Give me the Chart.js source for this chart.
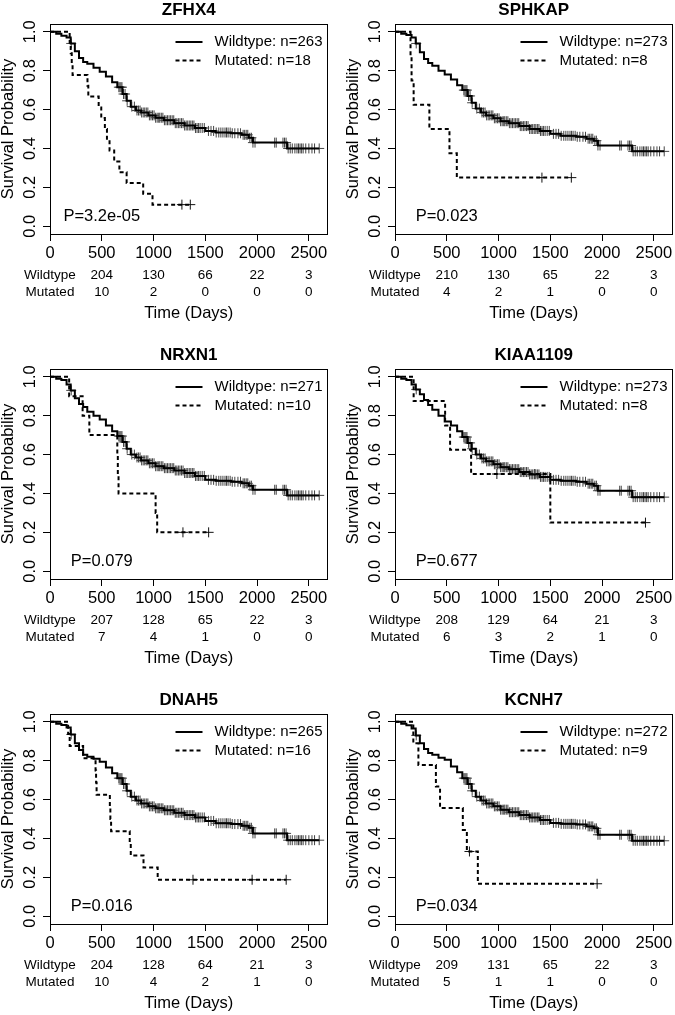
<!DOCTYPE html>
<html>
<head>
<meta charset="utf-8">
<script src="https://cdn.jsdelivr.net/npm/chart.js@4.4.0/dist/chart.umd.min.js"></script>
<style>
  html, body { margin: 0; padding: 0; background: #fff; }
  #page { position: relative; width: 675px; height: 1015px; overflow: hidden; background: #fff; }
  #page canvas { position: absolute; }
</style>
</head>
<body>
<div id="page"></div>
<script>
// panel labels
const genes = ["ZFHX4", "SPHKAP", "NRXN1", "KIAA1109", "DNAH5", "KCNH7"];
const wtN = [263, 273, 271, 273, 265, 272];
const mutN = [18, 8, 10, 8, 16, 9];
const pValues = ["3.2e-05", "0.023", "0.079", "0.677", "0.016", "0.034"];

// axes
const xTicks = [0, 500, 1000, 1500, 2000, 2500];
const yTicks = [0, 0.2, 0.4, 0.6, 0.8, 1.0];
const XMAX = 2680;

// numbers at risk (at 500 .. 2500 days)
const riskWt = [[204, 130, 66, 22, 3], [210, 130, 65, 22, 3], [207, 128, 65, 22, 3],
                [208, 129, 64, 21, 3], [204, 128, 64, 21, 3], [209, 131, 65, 22, 3]];
const riskMut = [[10, 2, 0, 0, 0], [4, 2, 1, 0, 0], [7, 4, 1, 0, 0],
                 [6, 3, 2, 1, 0], [10, 4, 2, 1, 0], [5, 1, 1, 0, 0]];

// wildtype curves (same time grid for every panel)
const wtTimes = [0, 60, 110, 160, 200, 240, 280, 320, 360, 420, 480, 540, 600, 650, 700, 740, 780,
                 830, 880, 950, 1020, 1100, 1200, 1300, 1400, 1500, 1600, 1750, 1850, 1920, 1960, 2290, 2600];
const zfhx4Wt = [1, 0.99, 0.98, 0.97, 0.94, 0.90, 0.865, 0.845, 0.835, 0.815, 0.795, 0.77, 0.74, 0.715, 0.68, 0.645, 0.615,
                 0.595, 0.585, 0.57, 0.558, 0.545, 0.53, 0.518, 0.505, 0.49, 0.482, 0.478, 0.47, 0.455, 0.43, 0.40, 0.40];
const sphkapWt = [1, 0.99, 0.983, 0.97, 0.94, 0.895, 0.86, 0.84, 0.825, 0.80, 0.78, 0.755, 0.725, 0.70, 0.67, 0.635, 0.605,
                  0.585, 0.57, 0.555, 0.54, 0.53, 0.515, 0.50, 0.49, 0.475, 0.465, 0.46, 0.45, 0.44, 0.415, 0.385, 0.385];
const nrxn1Wt = [1, 0.99, 0.983, 0.96, 0.93, 0.89, 0.86, 0.845, 0.82, 0.80, 0.78, 0.75, 0.72, 0.695, 0.665, 0.63, 0.60,
                 0.585, 0.57, 0.555, 0.54, 0.53, 0.518, 0.505, 0.49, 0.47, 0.465, 0.46, 0.452, 0.44, 0.419, 0.39, 0.39];
const kiaa1109Wt = [1, 0.99, 0.983, 0.96, 0.935, 0.91, 0.88, 0.855, 0.83, 0.80, 0.77, 0.75, 0.72, 0.69, 0.66, 0.63, 0.60,
                    0.58, 0.565, 0.55, 0.535, 0.525, 0.51, 0.498, 0.485, 0.47, 0.465, 0.46, 0.45, 0.44, 0.414, 0.381, 0.381];
const dnah5Wt = [1, 0.99, 0.983, 0.97, 0.935, 0.89, 0.855, 0.83, 0.82, 0.81, 0.795, 0.765, 0.735, 0.71, 0.68, 0.645, 0.615,
                 0.595, 0.58, 0.565, 0.555, 0.545, 0.532, 0.52, 0.508, 0.49, 0.478, 0.474, 0.465, 0.455, 0.426, 0.391, 0.391];
const kcnh7Wt = [1, 0.99, 0.982, 0.965, 0.93, 0.89, 0.86, 0.84, 0.83, 0.815, 0.805, 0.77, 0.74, 0.71, 0.68, 0.645, 0.615,
                 0.595, 0.58, 0.565, 0.548, 0.535, 0.52, 0.508, 0.495, 0.48, 0.475, 0.472, 0.462, 0.452, 0.419, 0.388, 0.388];

// wildtype censoring times
const wtCens = [205, 665, 675, 685, 695, 710, 725, 745, 790, 815, 840, 855, 870, 885, 900, 915, 930, 945, 960, 975,
                990, 1005, 1020, 1035, 1050, 1060, 1075, 1090, 1105, 1120, 1135, 1150, 1165, 1180, 1195, 1210,
                1225, 1240, 1255, 1270, 1285, 1300, 1315, 1330, 1345, 1360, 1375, 1390, 1405, 1420, 1435, 1450,
                1470, 1490, 1530, 1555, 1580, 1605, 1630, 1650, 1670, 1690, 1705, 1720, 1740, 1760, 1785, 1815,
                1840, 1865, 1880, 1895, 1910, 1930, 1945, 1960, 1980, 2170, 2185, 2250, 2265, 2280, 2300, 2320,
                2340, 2365, 2385, 2400, 2415, 2430, 2445, 2470, 2500, 2530, 2555, 2600];

// mutated curves
const zfhx4MutT = [0, 190, 200, 210, 218, 362, 370, 470, 495, 530, 550, 575, 620, 670, 740, 900, 990, 1355];
const zfhx4MutS = [1, 0.944, 0.889, 0.833, 0.778, 0.722, 0.667, 0.611, 0.556, 0.5, 0.444, 0.389, 0.333, 0.278, 0.222, 0.167, 0.111, 0.111];
const zfhx4MutC = [1274, 1355];

const sphkapMutT = [0, 150, 160, 180, 332, 526, 597, 1703];
const sphkapMutS = [1, 0.875, 0.75, 0.625, 0.5, 0.375, 0.25, 0.25];
const sphkapMutC = [1419, 1703];

const nrxn1MutT = [0, 185, 315, 380, 650, 655, 662, 1020, 1035, 1532];
const nrxn1MutS = [1, 0.9, 0.8, 0.7, 0.6, 0.5, 0.4, 0.3, 0.2, 0.2];
const nrxn1MutC = [1284, 1532];

const kiaa1109MutT = [0, 180, 484, 532, 735, 1500, 2419];
const kiaa1109MutS = [1, 0.875, 0.75, 0.625, 0.5, 0.25, 0.25];
const kiaa1109MutC = [984, 1350, 2419];

const dnah5MutT = [0, 175, 190, 320, 440, 445, 450, 578, 583, 590, 770, 780, 903, 1040, 2281];
const dnah5MutS = [1, 0.9375, 0.875, 0.8125, 0.75, 0.6875, 0.625, 0.5625, 0.5, 0.4375, 0.375, 0.3125, 0.25, 0.1875, 0.1875];
const dnah5MutC = [1381, 1952, 2281];

const kcnh7MutT = [0, 177, 226, 395, 435, 655, 694, 800, 1952];
const kcnh7MutS = [1, 0.889, 0.778, 0.667, 0.556, 0.444, 0.333, 0.167, 0.167];
const kcnh7MutC = [719, 1952];

const panels = [
  { wt: zfhx4Wt, mutT: zfhx4MutT, mutS: zfhx4MutS, mutC: zfhx4MutC },
  { wt: sphkapWt, mutT: sphkapMutT, mutS: sphkapMutS, mutC: sphkapMutC },
  { wt: nrxn1Wt, mutT: nrxn1MutT, mutS: nrxn1MutS, mutC: nrxn1MutC },
  { wt: kiaa1109Wt, mutT: kiaa1109MutT, mutS: kiaa1109MutS, mutC: kiaa1109MutC },
  { wt: dnah5Wt, mutT: dnah5MutT, mutS: dnah5MutS, mutC: dnah5MutC },
  { wt: kcnh7Wt, mutT: kcnh7MutT, mutS: kcnh7MutS, mutC: kcnh7MutC }
];

const FONT = "'Liberation Sans', Arial, Helvetica, sans-serif";
Chart.defaults.font.family = FONT;
Chart.defaults.color = "#000";

// survival value of a step curve at time t
function stepValue(times, surv, t) {
  let s = surv[0];
  for (let i = 0; i < times.length; i++) {
    if (times[i] <= t) s = surv[i];
  }
  return s;
}

function toPoints(times, surv) {
  return times.map((t, i) => ({ x: t, y: surv[i] }));
}

function censPoints(cens, times, surv) {
  return cens.map(t => ({ x: t, y: stepValue(times, surv, t) }));
}

// rotated y tick labels, legend box and p value
const kmText = {
  id: "kmText",
  afterDraw(chart, args, opts) {
    const ctx = chart.ctx;
    const area = chart.chartArea;
    const ys = chart.scales.y;
    ctx.save();
    ctx.fillStyle = "#000";
    ctx.strokeStyle = "#000";

    // y tick labels, R style (vertical)
    ctx.font = "16.5px " + FONT;
    ctx.textAlign = "center";
    ctx.textBaseline = "middle";
    ys.ticks.forEach(t => {
      ctx.save();
      ctx.translate(area.left - 20, ys.getPixelForValue(t.value));
      ctx.rotate(-Math.PI / 2);
      ctx.fillText(t.value.toFixed(1), 0, 0);
      ctx.restore();
    });

    // legend
    ctx.font = "15px " + FONT;
    ctx.textAlign = "left";
    ctx.lineWidth = 2;
    const tx = area.right - 113;
    const rows = [
      { label: "Wildtype: n=" + opts.wt, dash: [] },
      { label: "Mutated: n=" + opts.mut, dash: [4, 3] }
    ];
    rows.forEach((r, i) => {
      const ly = area.top + 18 + i * 18.5;
      ctx.setLineDash(r.dash);
      ctx.beginPath();
      ctx.moveTo(tx - 39, ly);
      ctx.lineTo(tx - 12, ly);
      ctx.stroke();
      ctx.setLineDash([]);
      ctx.fillText(r.label, tx, ly);
    });

    // p value
    ctx.font = "16.5px " + FONT;
    ctx.textAlign = "center";
    ctx.fillText("P=" + opts.p, chart.scales.x.getPixelForValue(500), ys.getPixelForValue(0.05));
    ctx.restore();
  }
};

const tickGrid = { display: true, drawOnChartArea: false, drawTicks: true, tickLength: 7, color: "#000", lineWidth: 1 };
const blackBorder = { display: true, color: "#000", width: 1 };

const page = document.getElementById("page");

panels.forEach((p, k) => {
  const col = k % 2;
  const row = Math.floor(k / 2);
  const cv = document.createElement("canvas");
  cv.width = 345;
  cv.height = 345;
  cv.style.left = (col * 345) + "px";
  cv.style.top = (row * 345) + "px";
  page.appendChild(cv);

  new Chart(cv, {
    type: "line",
    data: {
      datasets: [
        { data: toPoints(wtTimes, p.wt), borderColor: "#000", borderWidth: 2, stepped: true,
          pointRadius: 0, fill: false },
        { data: toPoints(p.mutT, p.mutS), borderColor: "#000", borderWidth: 2, borderDash: [4, 3],
          stepped: true, pointRadius: 0, fill: false },
        { type: "scatter", data: censPoints(wtCens, wtTimes, p.wt), pointStyle: "cross",
          pointRadius: 5, borderColor: "#444", borderWidth: 1, showLine: false },
        { type: "scatter", data: censPoints(p.mutC, p.mutT, p.mutS), pointStyle: "cross",
          pointRadius: 5, borderColor: "#111", borderWidth: 1, showLine: false }
      ]
    },
    options: {
      responsive: false,
      animation: false,
      devicePixelRatio: 1,
      layout: { padding: 0 },
      plugins: {
        legend: { display: false },
        tooltip: { enabled: false },
        title: { display: true, text: genes[k], fullSize: false, color: "#000",
                 font: { size: 17, weight: "bold", lineHeight: 1.2 }, padding: { top: 0, bottom: 3.6 } },
        kmText: { wt: wtN[k], mut: mutN[k], p: pValues[k] }
      },
      scales: {
        x: {
          type: "linear", position: "bottom", min: 0, max: XMAX, weight: 0,
          afterBuildTicks: s => { s.ticks = xTicks.map(v => ({ value: v })); },
          afterFit: s => { s.height = 30; },
          ticks: { autoSkip: false, maxRotation: 0, minRotation: 0, padding: 2.6, font: { size: 16.5 },
                   callback: v => String(v) },
          grid: tickGrid,
          border: blackBorder
        },
        xRisk: {
          type: "linear", position: "bottom", min: 0, max: XMAX, weight: 1,
          afterBuildTicks: s => { s.ticks = xTicks.map(v => ({ value: v })); },
          afterFit: s => { s.height = 81; },
          ticks: { autoSkip: false, maxRotation: 0, minRotation: 0, padding: 2.5,
                   font: { size: 13.5, lineHeight: 17 / 13.5 },
                   callback: (v, i) => i === 0 ? ["Wildtype", "Mutated"]
                                               : [String(riskWt[k][i - 1]), String(riskMut[k][i - 1])] },
          grid: { display: false, drawTicks: false },
          border: { display: false },
          title: { display: true, text: "Time (Days)", color: "#000",
                   font: { size: 16.5, lineHeight: 1.2 }, padding: { top: 0, bottom: 22 } }
        },
        xTop: {
          type: "linear", position: "top",
          afterFit: s => { s.height = 0; },
          ticks: { display: false },
          grid: { display: false, drawTicks: false },
          border: blackBorder
        },
        y: {
          type: "linear", position: "left", min: -0.04, max: 1.04,
          afterBuildTicks: s => { s.ticks = yTicks.map(v => ({ value: v })); },
          afterFit: s => { s.width = 50; },
          ticks: { display: false },
          grid: tickGrid,
          border: blackBorder,
          title: { display: true, text: "Survival Probability", color: "#000",
                   font: { size: 16.5, lineHeight: 1 }, padding: { top: 0, bottom: 0 } }
        },
        yRight: {
          type: "linear", position: "right",
          afterFit: s => { s.width = 17.5; },
          ticks: { display: false },
          grid: { display: false, drawTicks: false },
          border: blackBorder
        }
      }
    },
    plugins: [kmText]
  });
});
</script>
</body>
</html>
